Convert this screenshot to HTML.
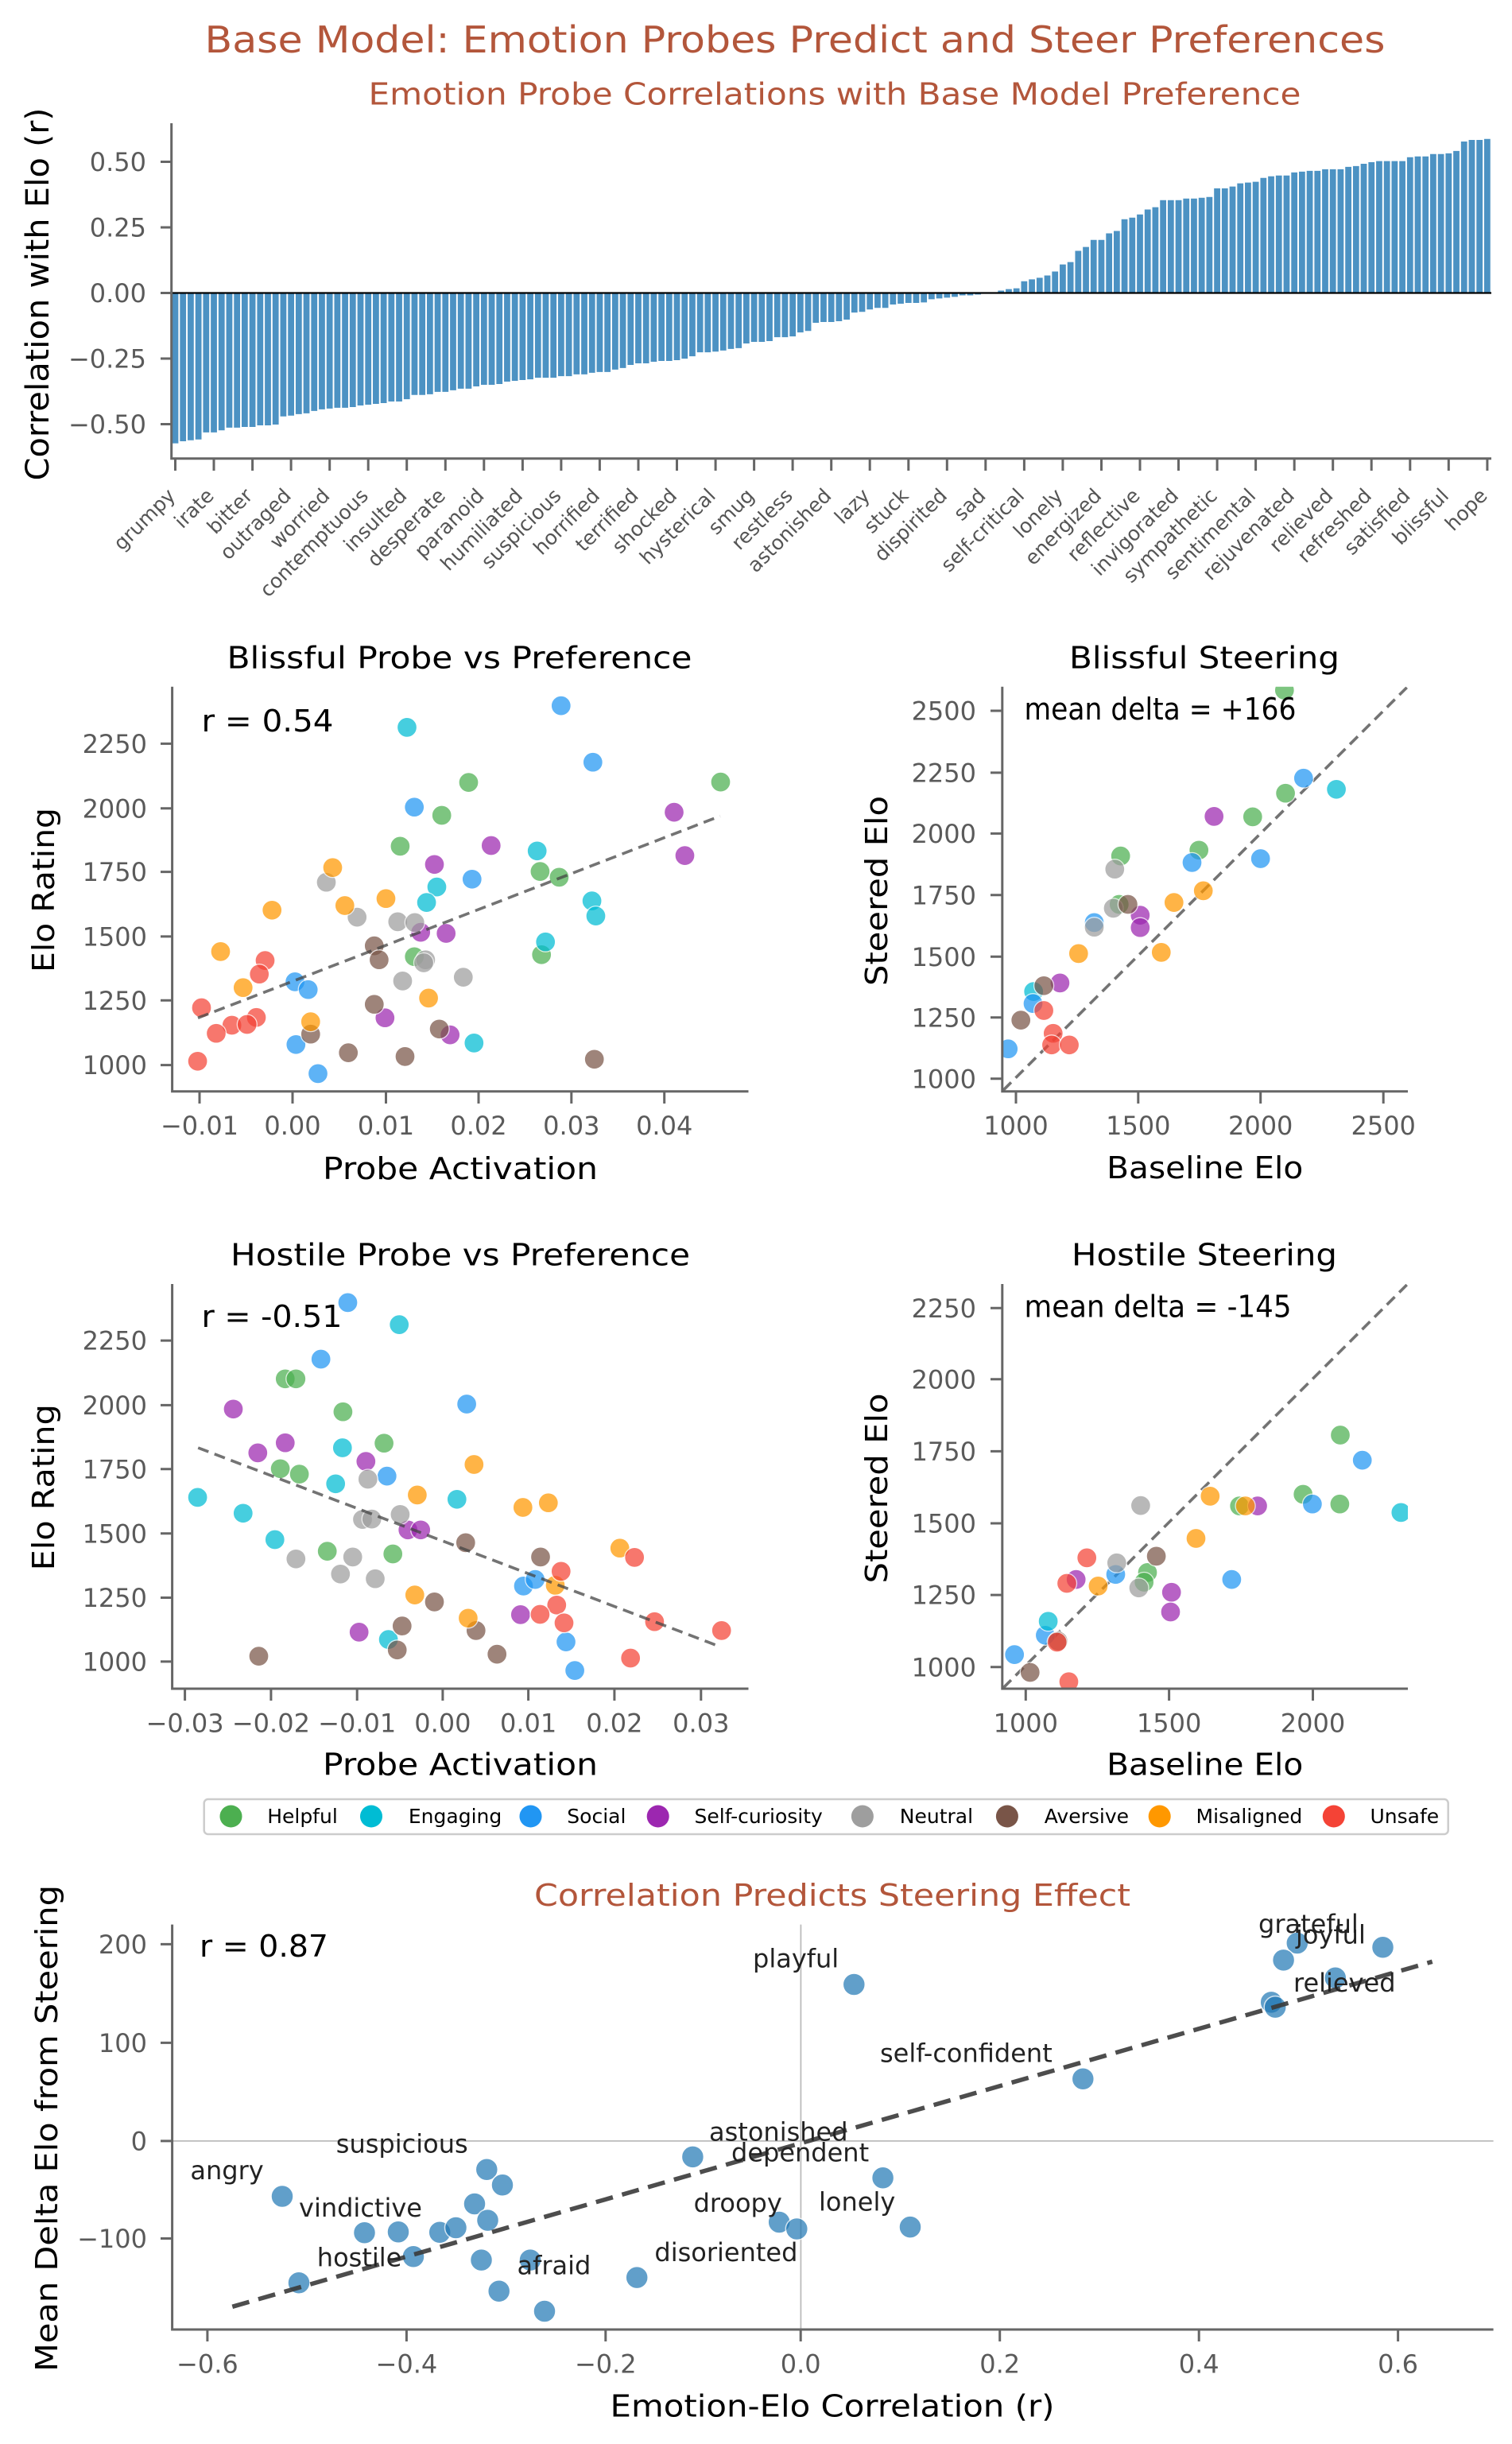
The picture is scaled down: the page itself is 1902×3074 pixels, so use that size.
<!DOCTYPE html>
<html><head><meta charset="utf-8"><style>
body{margin:0;background:#fff}svg{display:block}
text{font-family:"DejaVu Sans","Liberation Sans",sans-serif}
.tk{font-size:32px;fill:#5a5a5a}
.sp{stroke:#666;stroke-width:3;fill:none}
.G{fill:#4CAF50}.C{fill:#00BCD4}.B{fill:#2196F3}.P{fill:#9C27B0}.N{fill:#9E9E9E}.A{fill:#795548}.O{fill:#FF9800}.R{fill:#F44336}
.s circle{opacity:.72;stroke:#fff;stroke-width:1.3}
.bp circle{fill:#1f77b4;opacity:.7;stroke:#fff;stroke-width:1.5}
.lg circle{stroke:none}
.bl text{font-size:25px;fill:#555}
.an{font-size:32px;fill:#222}
.dl{stroke:#444;stroke-opacity:.75;stroke-width:3.6;stroke-dasharray:14 8}
</style></head><body>
<svg width="1902" height="3074" viewBox="0 0 1902 3074" xmlns="http://www.w3.org/2000/svg">
<defs>
<clipPath id="c1"><rect x="216.6" y="863.8" width="725" height="509"/></clipPath>
<clipPath id="c2"><rect x="1260.8" y="863.8" width="510.2" height="509"/></clipPath>
<clipPath id="c3"><rect x="216.6" y="1615" width="725" height="509"/></clipPath>
<clipPath id="c4"><rect x="1260.8" y="1615" width="510.2" height="509"/></clipPath>
</defs>
<rect width="1902" height="3074" fill="#fff"/>

<text x="1000" y="66" text-anchor="middle" font-size="46" fill="#b3563b" textLength="1485" lengthAdjust="spacingAndGlyphs">Base Model: Emotion Probes Predict and Steer Preferences</text>
<text x="1050" y="131.5" text-anchor="middle" font-size="38" fill="#b3563b" textLength="1173" lengthAdjust="spacingAndGlyphs">Emotion Probe Correlations with Base Model Preference</text>

<g transform="translate(220.5,368.5) scale(9.708,-329)">
<path fill="#4c92c3" d="M-.4 0h.8V-.575h-.8zm1 0h.8V-.567h-.8zm1 0h.8V-.563h-.8zm1 0h.8V-.56h-.8zm1 0h.8V-.533h-.8zm1 0h.8V-.533h-.8zm1 0h.8V-.525h-.8zm1 0h.8V-.515h-.8zm1 0h.8V-.515h-.8zm1 0h.8V-.512h-.8zm1 0h.8V-.512h-.8zm1 0h.8V-.506h-.8zm1 0h.8V-.506h-.8zm1 0h.8V-.503h-.8zm1 0h.8V-.472h-.8zm1 0h.8V-.469h-.8zm1 0h.8V-.463h-.8zm1 0h.8V-.46h-.8zm1 0h.8V-.451h-.8zm1 0h.8V-.445h-.8zm1 0h.8V-.442h-.8zm1 0h.8V-.439h-.8zm1 0h.8V-.439h-.8zm1 0h.8V-.436h-.8zm1 0h.8V-.43h-.8zm1 0h.8V-.427h-.8zm1 0h.8V-.424h-.8zm1 0h.8V-.421h-.8zm1 0h.8V-.415h-.8zm1 0h.8V-.415h-.8zm1 0h.8V-.406h-.8zm1 0h.8V-.39h-.8zm1 0h.8V-.39h-.8zm1 0h.8V-.387h-.8zm1 0h.8V-.378h-.8zm1 0h.8V-.378h-.8zm1 0h.8V-.372h-.8zm1 0h.8V-.366h-.8zm1 0h.8V-.366h-.8zm1 0h.8V-.357h-.8zm1 0h.8V-.351h-.8zm1 0h.8V-.351h-.8zm1 0h.8V-.348h-.8zm1 0h.8V-.339h-.8zm1 0h.8V-.336h-.8zm1 0h.8V-.333h-.8zm1 0h.8V-.33h-.8zm1 0h.8V-.324h-.8zm1 0h.8V-.324h-.8zm1 0h.8V-.324h-.8zm1 0h.8V-.318h-.8zm1 0h.8V-.318h-.8zm1 0h.8V-.311h-.8zm1 0h.8V-.311h-.8zm1 0h.8V-.305h-.8zm1 0h.8V-.302h-.8zm1 0h.8V-.302h-.8zm1 0h.8V-.293h-.8zm1 0h.8V-.287h-.8zm1 0h.8V-.275h-.8zm1 0h.8V-.269h-.8zm1 0h.8V-.269h-.8zm1 0h.8V-.263h-.8zm1 0h.8V-.26h-.8zm1 0h.8V-.26h-.8zm1 0h.8V-.257h-.8zm1 0h.8V-.251h-.8zm1 0h.8V-.242h-.8zm1 0h.8V-.227h-.8zm1 0h.8V-.227h-.8zm1 0h.8V-.224h-.8zm1 0h.8V-.22h-.8zm1 0h.8V-.214h-.8zm1 0h.8V-.211h-.8zm1 0h.8V-.193h-.8zm1 0h.8V-.187h-.8zm1 0h.8V-.187h-.8zm1 0h.8V-.184h-.8zm1 0h.8V-.169h-.8zm1 0h.8V-.169h-.8zm1 0h.8V-.166h-.8zm1 0h.8V-.151h-.8zm1 0h.8V-.145h-.8zm1 0h.8V-.114h-.8zm1 0h.8V-.111h-.8zm1 0h.8V-.111h-.8zm1 0h.8V-.108h-.8zm1 0h.8V-.102h-.8zm1 0h.8V-.075h-.8zm1 0h.8V-.072h-.8zm1 0h.8V-.063h-.8zm1 0h.8V-.057h-.8zm1 0h.8V-.057h-.8zm1 0h.8V-.044h-.8zm1 0h.8V-.041h-.8zm1 0h.8V-.038h-.8zm1 0h.8V-.038h-.8zm1 0h.8V-.036h-.8zm1 0h.8V-.024h-.8zm1 0h.8V-.021h-.8zm1 0h.8V-.018h-.8zm1 0h.8V-.015h-.8zm1 0h.8V-.009h-.8zm1 0h.8V-.009h-.8zm1 0h.8V-.006h-.8zm1 0h.8V-.002h-.8zm1 0h.8V.001h-.8zm1 0h.8V.009h-.8zm1 0h.8V.015h-.8zm1 0h.8V.018h-.8zm1 0h.8V.045h-.8zm1 0h.8V.052h-.8zm1 0h.8V.058h-.8zm1 0h.8V.067h-.8zm1 0h.8V.082h-.8zm1 0h.8V.109h-.8zm1 0h.8V.118h-.8zm1 0h.8V.161h-.8zm1 0h.8V.176h-.8zm1 0h.8V.203h-.8zm1 0h.8V.203h-.8zm1 0h.8V.228h-.8zm1 0h.8V.237h-.8zm1 0h.8V.282h-.8zm1 0h.8V.288h-.8zm1 0h.8V.3h-.8zm1 0h.8V.319h-.8zm1 0h.8V.328h-.8zm1 0h.8V.355h-.8zm1 0h.8V.355h-.8zm1 0h.8V.355h-.8zm1 0h.8V.361h-.8zm1 0h.8V.361h-.8zm1 0h.8V.364h-.8zm1 0h.8V.367h-.8zm1 0h.8V.4h-.8zm1 0h.8V.4h-.8zm1 0h.8V.407h-.8zm1 0h.8V.419h-.8zm1 0h.8V.422h-.8zm1 0h.8V.425h-.8zm1 0h.8V.44h-.8zm1 0h.8V.446h-.8zm1 0h.8V.449h-.8zm1 0h.8V.449h-.8zm1 0h.8V.461h-.8zm1 0h.8V.464h-.8zm1 0h.8V.467h-.8zm1 0h.8V.467h-.8zm1 0h.8V.473h-.8zm1 0h.8V.473h-.8zm1 0h.8V.473h-.8zm1 0h.8V.482h-.8zm1 0h.8V.485h-.8zm1 0h.8V.494h-.8zm1 0h.8V.5h-.8zm1 0h.8V.504h-.8zm1 0h.8V.504h-.8zm1 0h.8V.504h-.8zm1 0h.8V.504h-.8zm1 0h.8V.519h-.8zm1 0h.8V.522h-.8zm1 0h.8V.522h-.8zm1 0h.8V.531h-.8zm1 0h.8V.531h-.8zm1 0h.8V.534h-.8zm1 0h.8V.543h-.8zm1 0h.8V.579h-.8zm1 0h.8V.585h-.8zm1 0h.8V.585h-.8zm1 0h.8V.589h-.8z"/>
</g>
<line x1="216.6" y1="368.5" x2="1876" y2="368.5" stroke="#000" stroke-width="2.3"/>
<path class="sp" d="M215.7 155V576.7H1876"/>
<path class="sp" d="M202 203.5h14M202 286h14M202 368.5h14M202 451h14M202 533.5h14"/>
<g class="tk" text-anchor="end">
<text x="184" y="215">0.50</text><text x="184" y="297.5">0.25</text><text x="184" y="380">0.00</text><text x="184" y="462.5">−0.25</text><text x="184" y="545">−0.50</text>
</g>
<path class="sp" d="M220.5 577v15M269 577v15M317.6 577v15M366.1 577v15M414.7 577v15M463.2 577v15M511.7 577v15M560.3 577v15M608.8 577v15M657.4 577v15M705.9 577v15M754.4 577v15M803 577v15M851.5 577v15M900.1 577v15M948.6 577v15M997.1 577v15M1045.7 577v15M1094.2 577v15M1142.8 577v15M1191.3 577v15M1239.8 577v15M1288.4 577v15M1336.9 577v15M1385.5 577v15M1434 577v15M1482.5 577v15M1531.1 577v15M1579.6 577v15M1628.2 577v15M1676.7 577v15M1725.2 577v15M1773.8 577v15M1822.3 577v15M1870.9 577v15"/>
<g class="bl" text-anchor="end">
<text transform="translate(222,625) rotate(-45)">grumpy</text>
<text transform="translate(270.5,625) rotate(-45)">irate</text>
<text transform="translate(319.1,625) rotate(-45)">bitter</text>
<text transform="translate(367.6,625) rotate(-45)">outraged</text>
<text transform="translate(416.2,625) rotate(-45)">worried</text>
<text transform="translate(464.7,625) rotate(-45)">contemptuous</text>
<text transform="translate(513.2,625) rotate(-45)">insulted</text>
<text transform="translate(561.8,625) rotate(-45)">desperate</text>
<text transform="translate(610.3,625) rotate(-45)">paranoid</text>
<text transform="translate(658.9,625) rotate(-45)">humiliated</text>
<text transform="translate(707.4,625) rotate(-45)">suspicious</text>
<text transform="translate(755.9,625) rotate(-45)">horrified</text>
<text transform="translate(804.5,625) rotate(-45)">terrified</text>
<text transform="translate(853,625) rotate(-45)">shocked</text>
<text transform="translate(901.6,625) rotate(-45)">hysterical</text>
<text transform="translate(950.1,625) rotate(-45)">smug</text>
<text transform="translate(998.6,625) rotate(-45)">restless</text>
<text transform="translate(1047.2,625) rotate(-45)">astonished</text>
<text transform="translate(1095.7,625) rotate(-45)">lazy</text>
<text transform="translate(1144.3,625) rotate(-45)">stuck</text>
<text transform="translate(1192.8,625) rotate(-45)">dispirited</text>
<text transform="translate(1241.3,625) rotate(-45)">sad</text>
<text transform="translate(1289.9,625) rotate(-45)">self-critical</text>
<text transform="translate(1338.4,625) rotate(-45)">lonely</text>
<text transform="translate(1387,625) rotate(-45)">energized</text>
<text transform="translate(1435.5,625) rotate(-45)">reflective</text>
<text transform="translate(1484,625) rotate(-45)">invigorated</text>
<text transform="translate(1532.6,625) rotate(-45)">sympathetic</text>
<text transform="translate(1581.1,625) rotate(-45)">sentimental</text>
<text transform="translate(1629.7,625) rotate(-45)">rejuvenated</text>
<text transform="translate(1678.2,625) rotate(-45)">relieved</text>
<text transform="translate(1726.7,625) rotate(-45)">refreshed</text>
<text transform="translate(1775.3,625) rotate(-45)">satisfied</text>
<text transform="translate(1823.8,625) rotate(-45)">blissful</text>
<text transform="translate(1872.4,625) rotate(-45)">hope</text>
</g>
<text transform="translate(61,370) rotate(-90)" text-anchor="middle" font-size="40" fill="#000" textLength="469" lengthAdjust="spacingAndGlyphs">Correlation with Elo (r)</text>

<text x="578" y="840.4" text-anchor="middle" font-size="38" textLength="585" lengthAdjust="spacingAndGlyphs">Blissful Probe vs Preference</text>
<g clip-path="url(#c1)">
<g class="s">
<circle class="G" cx="589.5" cy="984.1" r="12.5"/><circle class="G" cx="906.5" cy="983.6" r="12.5"/><circle class="G" cx="555.7" cy="1025.5" r="12.5"/><circle class="G" cx="503.4" cy="1064.4" r="12.5"/><circle class="G" cx="679.4" cy="1096.1" r="12.5"/><circle class="G" cx="703.4" cy="1103.4" r="12.5"/><circle class="G" cx="521.2" cy="1203.3" r="12.5"/><circle class="G" cx="681.2" cy="1200.8" r="12.5"/>
<circle class="C" cx="512" cy="914.9" r="12.5"/><circle class="C" cx="675.7" cy="1070.3" r="12.5"/><circle class="C" cx="549.5" cy="1115.6" r="12.5"/><circle class="C" cx="536.6" cy="1135.1" r="12.5"/><circle class="C" cx="744.6" cy="1133.1" r="12.5"/><circle class="C" cx="749.5" cy="1152.1" r="12.5"/><circle class="C" cx="686.2" cy="1184.7" r="12.5"/><circle class="C" cx="596.3" cy="1311.9" r="12.5"/>
<circle class="B" cx="705.8" cy="887.6" r="12.5"/><circle class="B" cx="745.8" cy="958.7" r="12.5"/><circle class="B" cx="521.2" cy="1015.2" r="12.5"/><circle class="B" cx="593.8" cy="1105.8" r="12.5"/><circle class="B" cx="371.1" cy="1234.9" r="12.5"/><circle class="B" cx="387.7" cy="1244.7" r="12.5"/><circle class="B" cx="372.3" cy="1313.8" r="12.5"/><circle class="B" cx="400" cy="1350.4" r="12.5"/>
<circle class="P" cx="848" cy="1021.6" r="12.5"/><circle class="P" cx="617.8" cy="1063.5" r="12.5"/><circle class="P" cx="546.5" cy="1087.3" r="12.5"/><circle class="P" cx="861.5" cy="1076.1" r="12.5"/><circle class="P" cx="529.2" cy="1172.6" r="12.5"/><circle class="P" cx="561.2" cy="1174" r="12.5"/><circle class="P" cx="484.3" cy="1280.2" r="12.5"/><circle class="P" cx="566.2" cy="1301.6" r="12.5"/>
<circle class="N" cx="410.5" cy="1109.7" r="12.5"/><circle class="N" cx="449.2" cy="1153.6" r="12.5"/><circle class="N" cx="500.3" cy="1159.4" r="12.5"/><circle class="N" cx="521.8" cy="1160.4" r="12.5"/><circle class="N" cx="535.4" cy="1207.2" r="12.5"/><circle class="N" cx="506.5" cy="1233.9" r="12.5"/><circle class="N" cx="582.8" cy="1229.1" r="12.5"/><circle class="N" cx="533" cy="1211" r="12.5"/>
<circle class="A" cx="470.8" cy="1189.6" r="12.5"/><circle class="A" cx="476.9" cy="1207.2" r="12.5"/><circle class="A" cx="470.8" cy="1263.2" r="12.5"/><circle class="A" cx="552.6" cy="1294.3" r="12.5"/><circle class="A" cx="390.8" cy="1300.7" r="12.5"/><circle class="A" cx="438.2" cy="1324.1" r="12.5"/><circle class="A" cx="509.5" cy="1328.9" r="12.5"/><circle class="A" cx="747.7" cy="1332.3" r="12.5"/>
<circle class="O" cx="418.5" cy="1091.2" r="12.5"/><circle class="O" cx="433.8" cy="1139" r="12.5"/><circle class="O" cx="485.5" cy="1130.2" r="12.5"/><circle class="O" cx="342.2" cy="1144.8" r="12.5"/><circle class="O" cx="277.5" cy="1196.9" r="12.5"/><circle class="O" cx="305.8" cy="1242.2" r="12.5"/><circle class="O" cx="539.1" cy="1255.4" r="12.5"/><circle class="O" cx="390.8" cy="1285.1" r="12.5"/>
<circle class="R" cx="333.5" cy="1208.1" r="12.5"/><circle class="R" cx="326.2" cy="1225.2" r="12.5"/><circle class="R" cx="253.5" cy="1267.5" r="12.5"/><circle class="R" cx="322.5" cy="1279.7" r="12.5"/><circle class="R" cx="291.7" cy="1289.5" r="12.5"/><circle class="R" cx="310.8" cy="1288.5" r="12.5"/><circle class="R" cx="272" cy="1299.7" r="12.5"/><circle class="R" cx="248.6" cy="1334.8" r="12.5"/>
</g>
<line class="dl" x1="249" y1="1280.3" x2="905.8" y2="1026.5"/>
</g>
<path class="sp" d="M216.6 863.8V1372.8H941.5"/>
<path class="sp" d="M202 935.4h14M202 1016.7h14M202 1096.6h14M202 1177.9h14M202 1258.3h14M202 1339.6h14M251 1373v15M368 1373v15M485.5 1373v15M602 1373v15M718.8 1373v15M835.7 1373v15"/>
<g class="tk" text-anchor="end">
<text x="185" y="947">2250</text><text x="185" y="1028.3">2000</text><text x="185" y="1108.2">1750</text><text x="185" y="1189.5">1500</text><text x="185" y="1269.9">1250</text><text x="185" y="1351.2">1000</text>
</g>
<g class="tk" text-anchor="middle">
<text x="251" y="1427">−0.01</text><text x="368" y="1427">0.00</text><text x="485.5" y="1427">0.01</text><text x="602" y="1427">0.02</text><text x="718.8" y="1427">0.03</text><text x="835.7" y="1427">0.04</text>
</g>
<text x="253.5" y="919.8" font-size="38" textLength="166" lengthAdjust="spacingAndGlyphs">r = 0.54</text>
<text x="579" y="1483" text-anchor="middle" font-size="38" textLength="346" lengthAdjust="spacingAndGlyphs">Probe Activation</text>
<text transform="translate(68,1119.5) rotate(-90)" text-anchor="middle" font-size="38" textLength="207" lengthAdjust="spacingAndGlyphs">Elo Rating</text>

<text x="1515" y="840.4" text-anchor="middle" font-size="38" textLength="340" lengthAdjust="spacingAndGlyphs">Blissful Steering</text>
<g clip-path="url(#c2)">
<line class="dl" x1="1262" y1="1371.3" x2="1769.7" y2="864.7"/>
<g class="s">
<circle class="G" cx="1615.8" cy="868.1" r="12.5"/><circle class="G" cx="1617.1" cy="997.7" r="12.5"/><circle class="G" cx="1575.8" cy="1027.4" r="12.5"/><circle class="G" cx="1508.2" cy="1069.3" r="12.5"/><circle class="G" cx="1409.7" cy="1076.6" r="12.5"/><circle class="G" cx="1407.8" cy="1137.5" r="12.5"/>
<circle class="C" cx="1681.1" cy="992.8" r="12.5"/><circle class="C" cx="1300.2" cy="1247.1" r="12.5"/>
<circle class="B" cx="1639.8" cy="978.7" r="12.5"/><circle class="B" cx="1585.7" cy="1080" r="12.5"/><circle class="B" cx="1499.5" cy="1084.9" r="12.5"/><circle class="B" cx="1376.5" cy="1160.4" r="12.5"/><circle class="B" cx="1299.5" cy="1262.2" r="12.5"/><circle class="B" cx="1268.2" cy="1319.2" r="12.5"/>
<circle class="P" cx="1527.2" cy="1026.9" r="12.5"/><circle class="P" cx="1434.3" cy="1151.1" r="12.5"/><circle class="P" cx="1434.3" cy="1166.7" r="12.5"/><circle class="P" cx="1333.4" cy="1236.4" r="12.5"/>
<circle class="N" cx="1402.3" cy="1093.2" r="12.5"/><circle class="N" cx="1376.5" cy="1166.2" r="12.5"/><circle class="N" cx="1400.5" cy="1142.4" r="12.5"/>
<circle class="A" cx="1418.9" cy="1137.5" r="12.5"/><circle class="A" cx="1313.1" cy="1239.8" r="12.5"/><circle class="A" cx="1284.2" cy="1283.1" r="12.5"/>
<circle class="O" cx="1513.7" cy="1120.4" r="12.5"/><circle class="O" cx="1476.8" cy="1135.1" r="12.5"/><circle class="O" cx="1460.8" cy="1197.9" r="12.5"/><circle class="O" cx="1356.8" cy="1199.4" r="12.5"/>
<circle class="R" cx="1313.1" cy="1271" r="12.5"/><circle class="R" cx="1324.8" cy="1299.7" r="12.5"/><circle class="R" cx="1322.9" cy="1314.3" r="12.5"/><circle class="R" cx="1345.1" cy="1314.3" r="12.5"/>
</g>
</g>
<path class="sp" d="M1260.8 863.8V1372.8H1771"/>
<path class="sp" d="M1246 894h14M1246 971.9h14M1246 1048.4h14M1246 1125.8h14M1246 1203.3h14M1246 1279.7h14M1246 1356.7h14M1278 1373v15M1431.8 1373v15M1585.7 1373v15M1740.2 1373v15"/>
<g class="tk" text-anchor="end">
<text x="1228" y="905.6">2500</text><text x="1228" y="983.5">2250</text><text x="1228" y="1060">2000</text><text x="1228" y="1137.4">1750</text><text x="1228" y="1214.9">1500</text><text x="1228" y="1291.3">1250</text><text x="1228" y="1368.3">1000</text>
</g>
<g class="tk" text-anchor="middle">
<text x="1278" y="1427">1000</text><text x="1431.8" y="1427">1500</text><text x="1585.7" y="1427">2000</text><text x="1740.2" y="1427">2500</text>
</g>
<text x="1288.5" y="905" font-size="38" textLength="342" lengthAdjust="spacingAndGlyphs">mean delta = +166</text>
<text x="1515.7" y="1482" text-anchor="middle" font-size="38" textLength="247" lengthAdjust="spacingAndGlyphs">Baseline Elo</text>
<text transform="translate(1116,1120.5) rotate(-90)" text-anchor="middle" font-size="38" textLength="239" lengthAdjust="spacingAndGlyphs">Steered Elo</text>

<text x="579" y="1591.6" text-anchor="middle" font-size="38" textLength="578" lengthAdjust="spacingAndGlyphs">Hostile Probe vs Preference</text>
<g clip-path="url(#c3)">
<g class="s">
<circle class="G" cx="358.8" cy="1734.3" r="12.5"/><circle class="G" cx="372.3" cy="1734.3" r="12.5"/><circle class="G" cx="431.4" cy="1775.7" r="12.5"/><circle class="G" cx="483.1" cy="1815.2" r="12.5"/><circle class="G" cx="352.6" cy="1847.3" r="12.5"/><circle class="G" cx="376.6" cy="1854.1" r="12.5"/><circle class="G" cx="411.7" cy="1951.1" r="12.5"/><circle class="G" cx="494.2" cy="1954.5" r="12.5"/>
<circle class="C" cx="502.2" cy="1666.1" r="12.5"/><circle class="C" cx="430.8" cy="1821" r="12.5"/><circle class="C" cx="422.2" cy="1866.3" r="12.5"/><circle class="C" cx="248.6" cy="1883.4" r="12.5"/><circle class="C" cx="305.8" cy="1903.3" r="12.5"/><circle class="C" cx="345.8" cy="1936.5" r="12.5"/><circle class="C" cx="574.8" cy="1885.8" r="12.5"/><circle class="C" cx="488.6" cy="2062.1" r="12.5"/>
<circle class="B" cx="437.5" cy="1638.4" r="12.5"/><circle class="B" cx="403.7" cy="1709.5" r="12.5"/><circle class="B" cx="587.1" cy="1766" r="12.5"/><circle class="B" cx="486.8" cy="1856.6" r="12.5"/><circle class="B" cx="658.5" cy="1994.9" r="12.5"/><circle class="B" cx="673.2" cy="1986.6" r="12.5"/><circle class="B" cx="712" cy="2065.1" r="12.5"/><circle class="B" cx="723.1" cy="2101.1" r="12.5"/>
<circle class="P" cx="293.5" cy="1772.3" r="12.5"/><circle class="P" cx="324.3" cy="1827.4" r="12.5"/><circle class="P" cx="358.8" cy="1814.7" r="12.5"/><circle class="P" cx="460.3" cy="1838.1" r="12.5"/><circle class="P" cx="513.2" cy="1924.3" r="12.5"/><circle class="P" cx="529.2" cy="1924.3" r="12.5"/><circle class="P" cx="654.8" cy="2030.9" r="12.5"/><circle class="P" cx="451.7" cy="2052.9" r="12.5"/>
<circle class="N" cx="462.8" cy="1860.5" r="12.5"/><circle class="N" cx="456" cy="1911.1" r="12.5"/><circle class="N" cx="467.7" cy="1910.6" r="12.5"/><circle class="N" cx="503.4" cy="1904.8" r="12.5"/><circle class="N" cx="372.3" cy="1960.8" r="12.5"/><circle class="N" cx="443.7" cy="1958.4" r="12.5"/><circle class="N" cx="428.3" cy="1979.8" r="12.5"/><circle class="N" cx="472" cy="1985.7" r="12.5"/>
<circle class="A" cx="585.8" cy="1940.4" r="12.5"/><circle class="A" cx="680" cy="1958.4" r="12.5"/><circle class="A" cx="546.5" cy="2014.9" r="12.5"/><circle class="A" cx="505.8" cy="2045.1" r="12.5"/><circle class="A" cx="598.8" cy="2050.9" r="12.5"/><circle class="A" cx="499.7" cy="2075.3" r="12.5"/><circle class="A" cx="625.2" cy="2080.6" r="12.5"/><circle class="A" cx="325.5" cy="2083.1" r="12.5"/>
<circle class="O" cx="596.3" cy="1842" r="12.5"/><circle class="O" cx="524.9" cy="1880.4" r="12.5"/><circle class="O" cx="657.8" cy="1896" r="12.5"/><circle class="O" cx="689.8" cy="1890.2" r="12.5"/><circle class="O" cx="779.7" cy="1947.2" r="12.5"/><circle class="O" cx="698.5" cy="1994" r="12.5"/><circle class="O" cx="521.8" cy="2006.1" r="12.5"/><circle class="O" cx="588.9" cy="2035.3" r="12.5"/>
<circle class="R" cx="798.2" cy="1958.9" r="12.5"/><circle class="R" cx="705.8" cy="1976.4" r="12.5"/><circle class="R" cx="700.3" cy="2018.8" r="12.5"/><circle class="R" cx="679.4" cy="2030.5" r="12.5"/><circle class="R" cx="709.5" cy="2041.2" r="12.5"/><circle class="R" cx="823.4" cy="2039.7" r="12.5"/><circle class="R" cx="907.7" cy="2050.9" r="12.5"/><circle class="R" cx="793.2" cy="2085.5" r="12.5"/>
</g>
<line class="dl" x1="249.2" y1="1821" x2="906.5" y2="2071.4"/>
</g>
<path class="sp" d="M216.6 1615V2124H941.5"/>
<path class="sp" d="M202 1686.1h14M202 1767.4h14M202 1847.8h14M202 1928.7h14M202 2009.5h14M202 2089.9h14M232.6 2124v15M340.9 2124v15M449.2 2124v15M556.9 2124v15M664.6 2124v15M772.9 2124v15M881.8 2124v15"/>
<g class="tk" text-anchor="end">
<text x="185" y="1697.7">2250</text><text x="185" y="1779">2000</text><text x="185" y="1859.4">1750</text><text x="185" y="1940.3">1500</text><text x="185" y="2021.1">1250</text><text x="185" y="2101.5">1000</text>
</g>
<g class="tk" text-anchor="middle">
<text x="232.6" y="2178.5">−0.03</text><text x="340.9" y="2178.5">−0.02</text><text x="449.2" y="2178.5">−0.01</text><text x="556.9" y="2178.5">0.00</text><text x="664.6" y="2178.5">0.01</text><text x="772.9" y="2178.5">0.02</text><text x="881.8" y="2178.5">0.03</text>
</g>
<text x="253.5" y="1669" font-size="38" textLength="177" lengthAdjust="spacingAndGlyphs">r = -0.51</text>
<text x="579" y="2232.6" text-anchor="middle" font-size="38" textLength="346" lengthAdjust="spacingAndGlyphs">Probe Activation</text>
<text transform="translate(68,1870.7) rotate(-90)" text-anchor="middle" font-size="38" textLength="209" lengthAdjust="spacingAndGlyphs">Elo Rating</text>

<text x="1515" y="1591.6" text-anchor="middle" font-size="38" textLength="334" lengthAdjust="spacingAndGlyphs">Hostile Steering</text>
<g clip-path="url(#c4)">
<line class="dl" x1="1262" y1="2123" x2="1769.7" y2="1616"/>
<g class="s">
<circle class="G" cx="1686" cy="1805" r="12.5"/><circle class="G" cx="1639.2" cy="1879.5" r="12.5"/><circle class="G" cx="1685.4" cy="1891.7" r="12.5"/><circle class="G" cx="1559.2" cy="1894.1" r="12.5"/><circle class="G" cx="1443.5" cy="1977.9" r="12.5"/><circle class="G" cx="1439.2" cy="1990" r="12.5"/>
<circle class="B" cx="1713.7" cy="1836.6" r="12.5"/><circle class="B" cx="1650.9" cy="1891.7" r="12.5"/><circle class="B" cx="1549.4" cy="1986.6" r="12.5"/><circle class="B" cx="1403.5" cy="1980.3" r="12.5"/><circle class="B" cx="1314.9" cy="2056.8" r="12.5"/><circle class="B" cx="1276.2" cy="2081.1" r="12.5"/>
<circle class="C" cx="1762.3" cy="1902.4" r="12.5"/><circle class="C" cx="1318.6" cy="2039.2" r="12.5"/>
<circle class="P" cx="1582" cy="1894.1" r="12.5"/><circle class="P" cx="1353.7" cy="1986.6" r="12.5"/><circle class="P" cx="1473.7" cy="2002.7" r="12.5"/><circle class="P" cx="1472.5" cy="2027.5" r="12.5"/>
<circle class="N" cx="1434.9" cy="1893.6" r="12.5"/><circle class="N" cx="1404.8" cy="1965.7" r="12.5"/><circle class="N" cx="1432.5" cy="1997.3" r="12.5"/>
<circle class="A" cx="1454.6" cy="1957.4" r="12.5"/><circle class="A" cx="1330.9" cy="2064.1" r="12.5"/><circle class="A" cx="1295.8" cy="2103.5" r="12.5"/>
<circle class="O" cx="1522.3" cy="1881.9" r="12.5"/><circle class="O" cx="1566.6" cy="1894.1" r="12.5"/><circle class="O" cx="1504.5" cy="1935" r="12.5"/><circle class="O" cx="1381.4" cy="1994.9" r="12.5"/>
<circle class="R" cx="1367.2" cy="1959.4" r="12.5"/><circle class="R" cx="1342" cy="1991.5" r="12.5"/><circle class="R" cx="1329.7" cy="2065.5" r="12.5"/><circle class="R" cx="1344.5" cy="2115.2" r="12.5"/>
</g>
</g>
<path class="sp" d="M1260.8 1615V2124H1771"/>
<path class="sp" d="M1246 1645.2h14M1246 1734.8h14M1246 1825.4h14M1246 1916h14M1246 2006.1h14M1246 2096.7h14M1290.3 2124v15M1470.6 2124v15M1651.5 2124v15"/>
<g class="tk" text-anchor="end">
<text x="1228" y="1656.8">2250</text><text x="1228" y="1746.4">2000</text><text x="1228" y="1837">1750</text><text x="1228" y="1927.6">1500</text><text x="1228" y="2017.7">1250</text><text x="1228" y="2108.3">1000</text>
</g>
<g class="tk" text-anchor="middle">
<text x="1290.3" y="2178.5">1000</text><text x="1470.6" y="2178.5">1500</text><text x="1651.5" y="2178.5">2000</text>
</g>
<text x="1288.5" y="1656.4" font-size="38" textLength="336" lengthAdjust="spacingAndGlyphs">mean delta = -145</text>
<text x="1515.7" y="2232.6" text-anchor="middle" font-size="38" textLength="247" lengthAdjust="spacingAndGlyphs">Baseline Elo</text>
<text transform="translate(1116,1872) rotate(-90)" text-anchor="middle" font-size="38" textLength="239" lengthAdjust="spacingAndGlyphs">Steered Elo</text>

<rect x="256.7" y="2263" width="1565" height="44" rx="5" fill="#fff" stroke="#cccccc" stroke-width="2.5"/>
<g class="lg">
<circle class="G" cx="290.5" cy="2284.5" r="14"/><circle class="C" cx="467" cy="2284.5" r="14"/><circle class="B" cx="667.5" cy="2284.5" r="14"/><circle class="P" cx="827.7" cy="2284.5" r="14"/><circle class="N" cx="1084.9" cy="2284.5" r="14"/><circle class="A" cx="1266.9" cy="2284.5" r="14"/><circle class="O" cx="1458.7" cy="2284.5" r="14"/><circle class="R" cx="1677.8" cy="2284.5" r="14"/>
</g>
<g font-size="25" fill="#000">
<text x="336.2" y="2293">Helpful</text><text x="513.9" y="2293">Engaging</text><text x="713.3" y="2293">Social</text><text x="873.5" y="2293">Self-curiosity</text><text x="1131.8" y="2293">Neutral</text><text x="1313.8" y="2293">Aversive</text><text x="1504.5" y="2293">Misaligned</text><text x="1723.5" y="2293">Unsafe</text>
</g>

<text x="1047" y="2397" text-anchor="middle" font-size="38" fill="#b3563b" textLength="750" lengthAdjust="spacingAndGlyphs">Correlation Predicts Steering Effect</text>
<line x1="216.6" y1="2692.9" x2="1878.6" y2="2692.9" stroke="#bbb" stroke-width="1.8"/>
<line x1="1007.4" y1="2420.6" x2="1007.4" y2="2930" stroke="#bbb" stroke-width="1.8"/>
<g class="bp">
<circle cx="355" cy="2762.5" r="14"/><circle cx="376" cy="2871.3" r="14"/><circle cx="458.5" cy="2808.3" r="14"/><circle cx="501" cy="2807.3" r="14"/><circle cx="520" cy="2838.3" r="14"/><circle cx="553.2" cy="2807.8" r="14"/><circle cx="573.5" cy="2802" r="14"/><circle cx="597" cy="2772" r="14"/><circle cx="613.5" cy="2792.6" r="14"/><circle cx="612.3" cy="2728.7" r="14"/><circle cx="632" cy="2748.2" r="14"/><circle cx="605.5" cy="2842.6" r="14"/><circle cx="627.7" cy="2881.7" r="14"/><circle cx="667" cy="2842.6" r="14"/><circle cx="685" cy="2907" r="14"/><circle cx="801.2" cy="2864.6" r="14"/><circle cx="871.4" cy="2712.9" r="14"/><circle cx="1074.3" cy="2496" r="14"/><circle cx="1362.3" cy="2614.7" r="14"/><circle cx="1631.8" cy="2444" r="14"/><circle cx="1614.6" cy="2465.4" r="14"/><circle cx="1739.5" cy="2449.2" r="14"/><circle cx="1679.8" cy="2487.8" r="14"/><circle cx="1599.2" cy="2518.4" r="14"/><circle cx="1604.2" cy="2524.6" r="14"/><circle cx="1110.6" cy="2739.2" r="14"/><circle cx="1145" cy="2801.1" r="14"/><circle cx="980.2" cy="2795" r="14"/><circle cx="1002.3" cy="2803.5" r="14"/>
</g>
<line x1="292.3" y1="2901.3" x2="1801.7" y2="2467.3" stroke="#3a3a3a" stroke-opacity=".9" stroke-width="5.5" stroke-dasharray="22 12"/>
<g class="an">
<text x="239.4" y="2741">angry</text>
<text x="422.8" y="2707.7">suspicious</text>
<text x="376" y="2787.8">vindictive</text>
<text x="398.8" y="2850.7">hostile</text>
<text x="650.5" y="2860.3">afraid</text>
<text x="823.4" y="2844">disoriented</text>
<text x="892" y="2692.4">astonished</text>
<text x="920" y="2718.7">dependent</text>
<text x="872.6" y="2782">droopy</text>
<text x="1030" y="2780.6">lonely</text>
<text x="947" y="2474.5">playful</text>
<text x="1107" y="2593.7">self-confident</text>
<text x="1583" y="2431">grateful</text>
<text x="1630" y="2444.4">joyful</text>
<text x="1627" y="2505">relieved</text>
</g>
<path class="sp" d="M216.6 2420.6V2930H1878.6"/>
<path class="sp" d="M202 2445.4h14M202 2569.4h14M202 2692.9h14M202 2815.5h14M260.9 2930v15M511.4 2930v15M761.8 2930v15M1007.2 2930v15M1257.7 2930v15M1508.2 2930v15M1758.6 2930v15"/>
<g class="tk" text-anchor="end">
<text x="185" y="2457">200</text><text x="185" y="2581">100</text><text x="185" y="2704.5">0</text><text x="185" y="2827.1">−100</text>
</g>
<g class="tk" text-anchor="middle">
<text x="260.9" y="2984.5">−0.6</text><text x="511.4" y="2984.5">−0.4</text><text x="761.8" y="2984.5">−0.2</text><text x="1007.2" y="2984.5">0.0</text><text x="1257.7" y="2984.5">0.2</text><text x="1508.2" y="2984.5">0.4</text><text x="1758.6" y="2984.5">0.6</text>
</g>
<text x="251" y="2461" font-size="38" textLength="162" lengthAdjust="spacingAndGlyphs">r = 0.87</text>
<text x="1047" y="3039.6" text-anchor="middle" font-size="38" textLength="559" lengthAdjust="spacingAndGlyphs">Emotion-Elo Correlation (r)</text>
<text transform="translate(72,2677) rotate(-90)" text-anchor="middle" font-size="38" textLength="612" lengthAdjust="spacingAndGlyphs">Mean Delta Elo from Steering</text>
</svg>
</body></html>
